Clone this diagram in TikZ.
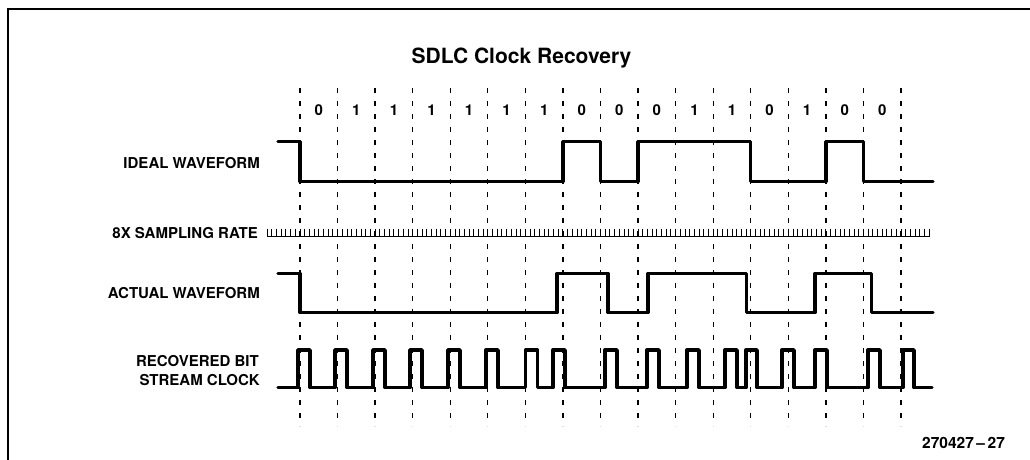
\documentclass[tikz,border=0pt]{standalone}
\usepackage{fontspec}
\setmainfont{TeX Gyre Heros}
\begin{document}
\begin{tikzpicture}[x=1pt,y=-1pt,
  lab/.style={font=\fontsize{15}{18}\selectfont\bfseries, anchor=base east, inner sep=0pt},
  bitlab/.style={font=\fontsize{15}{18}\selectfont\bfseries, anchor=base, inner sep=0pt},
  wave/.style={line width=3.4pt, line join=round, line cap=round},
  grid/.style={line width=1.3pt, dash pattern=on 5pt off 8pt},
  samp/.style={line width=0.9pt},
  frame/.style={line width=2pt}]
\useasboundingbox (0,0) rectangle (1030,460);
% frame
\draw[frame] (8,460) -- (8,9) -- (1030,9);
% title
\node[font=\fontsize{21}{25}\selectfont\bfseries, anchor=base, inner sep=0pt] (title) at (521.5,63.3) {SDLC Clock Recovery};
% dashed bit boundaries
\foreach \k in {0,...,16}{
  \draw[grid] ({300+\k*37.5625},88) -- ({300+\k*37.5625},426);
}
% bit values
\foreach \b [count=\i from 0] in {0,1,1,1,1,1,1,0,0,0,1,1,0,1,0,0}{
  \node[bitlab] (bit\i) at ({318.8+\i*37.5625},115.5) {\b};
}
% labels
\node[lab] (ideal) at (260,168.3) {IDEAL WAVEFORM};
\node[lab] (sampling) at (258,238) {8X SAMPLING RATE};
\node[lab] (actual) at (260,298) {ACTUAL WAVEFORM};
\node[lab] (recov) at (259,366.7) {RECOVERED BIT};
\node[lab] (stream) at (260,385) {STREAM CLOCK};
\node[font=\fontsize{15.5}{18}\selectfont\bfseries, anchor=base west, inner sep=0pt] (fig) at (922,448.3) {270427\,\textendash\,27};
% ideal waveform
\draw[wave] (278,141.7) -- (300,141.7) -- (300,181.5) -- (562.9,181.5) -- (562.9,141.7)
  -- (600.5,141.7) -- (600.5,181.5) -- (638,181.5) -- (638,141.7) -- (750.7,141.7)
  -- (750.7,181.5) -- (825.8,181.5) -- (825.8,141.7) -- (863.4,141.7) -- (863.4,181.5) -- (933,181.5);
% 8x sampling comb
\foreach \k in {-7,...,134}{
  \draw[samp] ({300+\k*4.6953},228.5) -- ({300+\k*4.6953},236.8);
}
\draw[line width=1.6pt] ({300-7*4.6953},236.6) -- ({300+134*4.6953},236.6);
% actual waveform
\draw[wave] (278,273.5) -- (300,273.5) -- (300,312.5) -- (556.8,312.5) -- (556.8,273.5)
  -- (607.8,273.5) -- (607.8,312.5) -- (648,312.5) -- (648,273.5) -- (746.7,273.5)
  -- (746.7,312.5) -- (815,312.5) -- (815,273.5) -- (871.6,273.5) -- (871.6,312.5) -- (933,312.5);
% recovered clock
\draw[wave] (278,387.5)
  \foreach \r/\f in {298/310,335/347,373/385,410/422,448/460,486/498,525.5/537.5,553/565,605/617,647/659,687/699,725/737,746/757,782/794,815/827,868/880,903/914}{
    -- (\r,387.5) -- (\r,350) -- (\f,350) -- (\f,387.5)
  } -- (932,387.5);
\end{tikzpicture}
\end{document}
